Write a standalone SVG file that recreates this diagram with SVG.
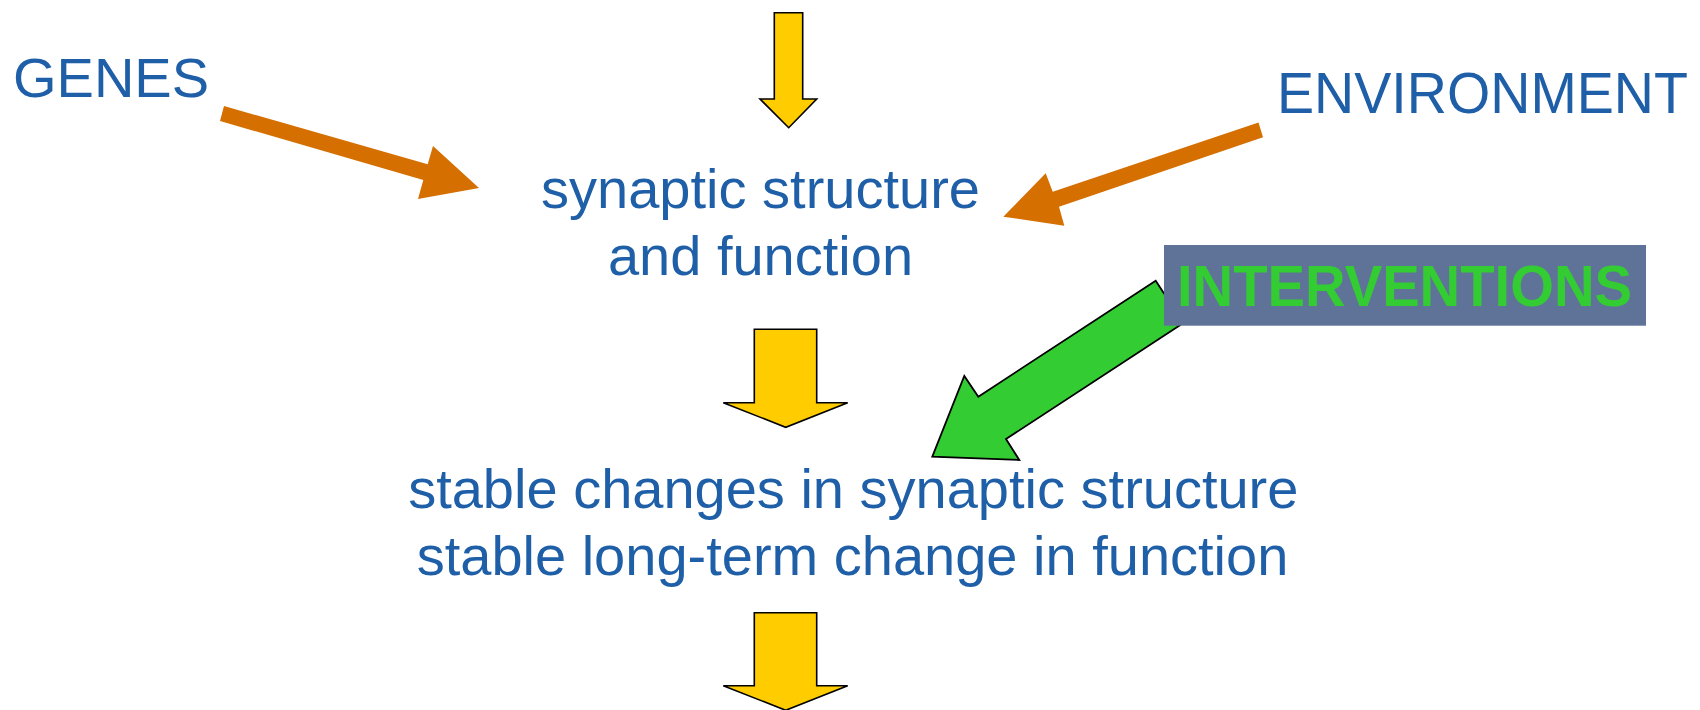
<svg xmlns="http://www.w3.org/2000/svg" width="1700" height="710" viewBox="0 0 1700 710">
  <style>
    .label { font-family: "Liberation Sans", Arial, Helvetica, sans-serif; font-size: 56px; fill: #1e5fa8; }
    .mid { text-anchor: middle; }
    .flow { fill: #ffcc00; stroke: #000000; stroke-width: 1.6; stroke-linejoin: miter; }
    .influence { fill: #d46f00; stroke: none; }
    .treat { fill: #33cc33; stroke: #000000; stroke-width: 1.8; stroke-linejoin: miter; }
    .box { fill: #5f7298; }
    .boxlabel { font-family: "Liberation Sans", Arial, Helvetica, sans-serif; font-size: 58px; font-weight: bold; fill: #33cc33; }
  </style>

  <rect width="1700" height="710" fill="#ffffff"/>

  <!-- arrows -->
  <g id="connectors">
    <!-- block arrow entering from above -->
    <polygon class="flow" points="774.3,12.7 802.7,12.7 802.7,99 816.7,99 788.7,127.7 760,99 774.3,99"/>
    <!-- synaptic structure -> stable changes -->
    <polygon class="flow" points="754.3,329.3 816.7,329.3 816.7,402.7 847.7,402.7 785.7,427.3 723.3,402.7 754.3,402.7"/>
    <!-- stable changes -> onward -->
    <polygon class="flow" points="754.3,612.7 816.7,612.7 816.7,685.7 847.7,685.7 785.7,710.3 723.3,685.7 754.3,685.7"/>
    <!-- genes -> synaptic structure -->
    <polygon class="influence" points="224,106 427.7,164.3 433,146 479,188 418,199 423.3,180 220,121"/>
    <!-- environment -> synaptic structure -->
    <polygon class="influence" points="1258.5,122.5 1052.7,191.7 1045.7,173.3 1003.3,216.7 1064.3,225.7 1059,206.7 1263,137.3"/>
    <!-- interventions -> stable changes -->
    <polygon class="treat" points="1155.7,280.7 1183.4,323.1 1006,439 1019.3,460 932.3,456.7 964.3,376 978.3,396.7"/>
  </g>

  <g id="genes">
    <text class="label" x="13" y="97">GENES</text>
  </g>

  <g id="environment">
    <text class="label" x="1277" y="113" style="font-size:57px" textLength="411" lengthAdjust="spacingAndGlyphs">ENVIRONMENT</text>
  </g>

  <g id="interventions">
    <rect class="box" x="1164" y="245" width="482" height="80.7"/>
    <text class="boxlabel" x="1177" y="306" textLength="455" lengthAdjust="spacingAndGlyphs">INTERVENTIONS</text>
  </g>

  <g id="synaptic">
    <text class="label mid" x="760.5" y="208">synaptic structure</text>
    <text class="label mid" x="760.5" y="275">and function</text>
  </g>

  <g id="stable">
    <text class="label mid" x="853.3" y="508">stable changes in synaptic structure</text>
    <text class="label mid" x="852.5" y="575">stable long-term change in function</text>
  </g>
</svg>
